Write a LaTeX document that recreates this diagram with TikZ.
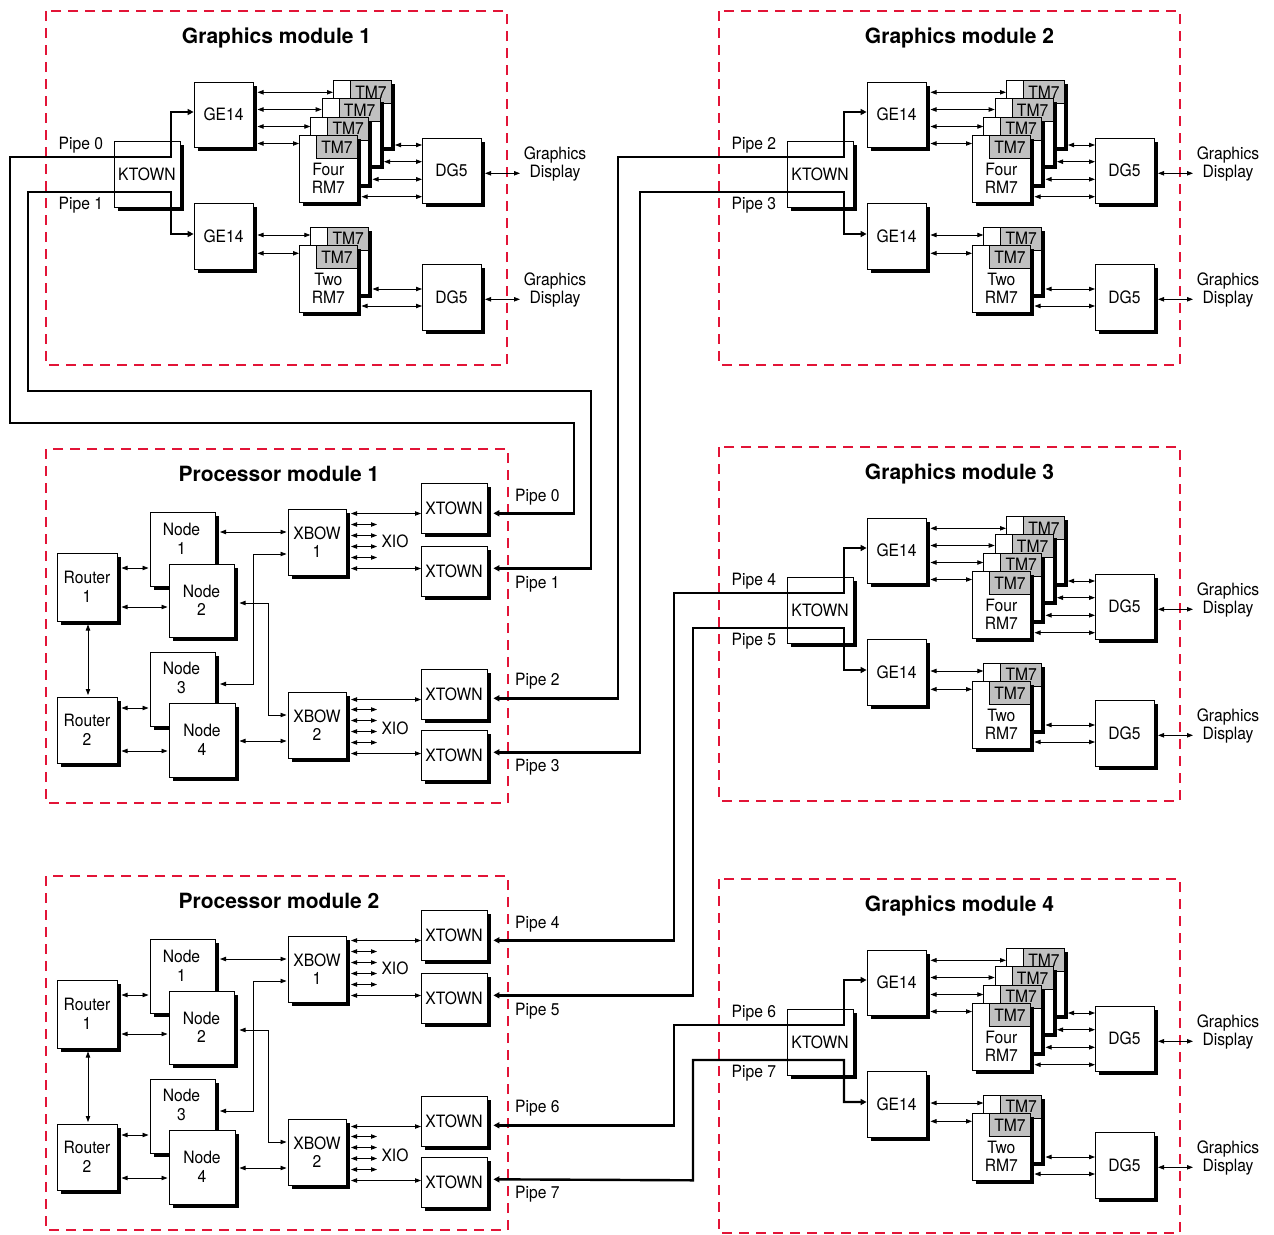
\documentclass[tikz,border=0pt]{standalone}
\usepackage{fontspec}
\setmainfont{TeX Gyre Heros}[FakeStretch=0.92]
\newfontfamily\titlefont{TeX Gyre Heros}
\usetikzlibrary{arrows.meta,shadows,calc}
\definecolor{dashred}{RGB}{226,20,55}
\definecolor{tmgray}{RGB}{192,192,192}
\tikzset{
 box/.style={draw, line width=0.8pt, fill=white, general shadow={fill=black, shadow xshift=3.5pt, shadow yshift=-3.5pt}},
 tm/.style={draw, line width=0.8pt, fill=tmgray, minimum width=41, minimum height=23},
 modbox/.style={draw=dashred, line width=2.6pt, dash pattern=on 10pt off 7pt},
 ttl/.style={font=\titlefont\bfseries\fontsize{21}{24}\selectfont},
 arr/.style={line width=0.8pt, {Triangle[length=6pt,width=4.4pt]}-{Triangle[length=6pt,width=4.4pt]}},
 pipe/.style={line width=2.4pt, line join=miter, {Triangle[length=6pt,width=6pt]}-{Triangle[length=6pt,width=6pt]}},
}
\newcommand\card[4]{%
 \node[box, minimum width=58, minimum height=67, anchor=north west] (#1) at (#2,#3) {};
 \node[tm, anchor=north east] at (#1.north east) {TM7};
 \node at ([yshift=-9.5pt]#1.center) {#4};}
% #1 prefix, #2 dx, #3 dy, #4 number, #5 #6 pipes, #7 title x
\newcommand\gmodule[7]{%
\begin{scope}[shift={(#2,#3)}, name prefix=#1-]
 \draw[modbox] (46,11) rectangle (507,365);
 \node[ttl] (title) at (#7,38) {Graphics module #4};
 \node[box, minimum width=66, minimum height=66] (kt) at (147,174) {KTOWN};
 \node[box, minimum width=59, minimum height=65] (gea) at (223.5,114.5) {GE14};
 \node[box, minimum width=59, minimum height=66] (geb) at (223.5,236) {GE14};
 \card{ca4}{333}{80.1}{}
 \card{ca3}{321.7}{98.4}{}
 \card{ca2}{310.3}{116.7}{}
 \card{ca1}{299}{135}{Four\\RM7}
 \card{cb2}{310.3}{226.7}{}
 \card{cb1}{299}{245}{Two\\RM7}
 \node[box, minimum width=59, minimum height=65] (dga) at (451.5,170.5) {DG5};
 \node[box, minimum width=59, minimum height=66] (dgb) at (451.5,297) {DG5};
 \node (gda) at (555,164) {Graphics\\Display};
 \node (gdb) at (555,290) {Graphics\\Display};
 \draw[arr] (257.5,92.3) -- (333,92.3);
 \draw[arr] (257.5,109.5) -- (321.7,109.5);
 \draw[arr] (257.5,126.5) -- (310.3,126.5);
 \draw[arr] (257.5,143.5) -- (299,143.5);
 \draw[arr] (395,145) -- (422,145);
 \draw[arr] (384,161.7) -- (422,161.7);
 \draw[arr] (372.5,179.3) -- (422,179.3);
 \draw[arr] (361.5,196.7) -- (422,196.7);
 \draw[arr] (485,173.3) -- (520,173.3);
 \draw[arr] (257.5,235) -- (310.3,235);
 \draw[arr] (257.5,253.3) -- (299,253.3);
 \draw[arr] (372.5,289) -- (422,289);
 \draw[arr] (361.5,306) -- (422,306);
 \draw[arr] (485,299.3) -- (520,299.3);
 \node[anchor=west] (pa) at (58.5,145) {Pipe #5};
 \node[anchor=west] (pb) at (58.5,205) {Pipe #6};
\end{scope}}
% #1 prefix, #2 dy, #3 number, #4-#7 pipes
\newcommand\pmodule[7]{%
\begin{scope}[shift={(0,#2)}, name prefix=#1-]
 \draw[modbox] (46,449) rectangle (508,803);
 \node[ttl] (title) at (279,474) {Processor module #3};
 \node[box, minimum width=60, minimum height=68] (r1) at (87,587) {Router\\1};
 \node[box, minimum width=60, minimum height=66] (r2) at (87,730) {Router\\2};
 \node[box, minimum width=65, minimum height=74] (n1) at (182.5,549) {};
 \node (n1t) at (181.5,539) {Node\\1};
 \node[box, minimum width=65, minimum height=73] (n2) at (201.5,600.5) {Node\\2};
 \node[box, minimum width=65, minimum height=74] (n3) at (182.5,689) {};
 \node (n3t) at (181.5,678) {Node\\3};
 \node[box, minimum width=66, minimum height=74] (n4) at (202,740) {Node\\4};
 \node[box, minimum width=58, minimum height=66] (xb1) at (317,542) {XBOW\\1};
 \node[box, minimum width=58, minimum height=66] (xb2) at (317,725) {XBOW\\2};
 \node[box, minimum width=66, minimum height=50] (xta) at (454,508) {XTOWN};
 \node[box, minimum width=66, minimum height=50] (xtb) at (454,571) {XTOWN};
 \node[box, minimum width=66, minimum height=50] (xtc) at (454,694) {XTOWN};
 \node[box, minimum width=66, minimum height=50] (xtd) at (454,755) {XTOWN};
 \draw[arr] (121.5,568) -- (148.5,568);
 \draw[arr] (121.5,607) -- (167.5,607);
 \draw[arr] (88,624.5) -- (88,695);
 \draw[arr] (121.5,708) -- (148.5,708);
 \draw[arr] (121.5,751) -- (167.5,751);
 \draw[arr] (220,532) -- (286.5,532);
 \draw[arr] (239.5,741) -- (286.5,741);
 \draw[arr] (220,684) -- (253,684) -- (253,554) -- (286.5,554);
 \draw[arr] (239.5,603) -- (268,603) -- (268,715) -- (286.5,715);
 \draw[arr] (351,513.5) -- (421,513.5);
 \draw[arr] (351,568.5) -- (421,568.5);
 \foreach \yy in {524.5,535.5,546.5,557.5} {\draw[arr] (351,\yy) -- (377,\yy);}
 \node (xioa) at (395,541) {XIO};
 \draw[arr] (351,699.5) -- (421,699.5);
 \draw[arr] (351,753.5) -- (421,753.5);
 \foreach \yy in {709.5,720.5,731.5,742.5} {\draw[arr] (351,\yy) -- (377,\yy);}
 \node (xiob) at (395,728) {XIO};
 \node[anchor=west] (pla) at (515,497) {Pipe #4};
 \node[anchor=west] (plb) at (515,584) {Pipe #5};
 \node[anchor=west] (plc) at (515,681) {Pipe #6};
 \node[anchor=west] (pld) at (515,767) {Pipe #7};
\end{scope}}
\begin{document}
\begin{tikzpicture}[x=1pt, y=-1pt, every node/.style={font=\fontsize{17}{18.5}\selectfont, inner sep=0pt, align=center}]
\useasboundingbox (0,0) rectangle (1274,1234);
\fill[white] (0,0) rectangle (1274,1234);
\gmodule{gm1}{0}{0}{1}{0}{1}{276.5}
\gmodule{gm2}{673}{0}{2}{2}{3}{286.5}
\gmodule{gm3}{673}{436}{3}{4}{5}{286.5}
\gmodule{gm4}{673}{868}{4}{6}{7}{286.5}
\pmodule{pm1}{0}{1}{0}{1}{2}{3}
\pmodule{pm2}{427}{2}{4}{5}{6}{7}
% pipes
\draw[pipe] ($(pm1-xta.east)+(6,5.3)$) -- (574,513.3) -- (574,423) -- (10,423) -- (10,157) -- (171,157) -- (171,112) -- (gm1-gea.west |- 171,112);
\draw[pipe] ($(pm1-xtb.east)+(6,-2.7)$) -- (591,568.3) -- (591,391) -- (28,391) -- (28,192) -- (171,192) -- (171,234) -- (gm1-geb.west |- 171,234);
\draw[pipe] ($(pm1-xtc.east)+(6,4.3)$) -- (618,698.3) -- (618,157) -- (844,157) -- (844,112) -- (gm2-gea.west |- 844,112);
\draw[pipe] ($(pm1-xtd.east)+(6,-2.7)$) -- (640,752.3) -- (640,192) -- (844,192) -- (844,234) -- (gm2-geb.west |- 844,234);
\draw[pipe] ($(pm2-xta.east)+(6,5.3)$) -- (674,940.3) -- (674,593) -- (844,593) -- (844,548) -- (gm3-gea.west |- 844,548);
\draw[pipe] ($(pm2-xtb.east)+(6,-2.7)$) -- (693,995.3) -- (693,628) -- (844,628) -- (844,670) -- (gm3-geb.west |- 844,670);
\draw[pipe] ($(pm2-xtc.east)+(6,4.3)$) -- (674,1125.3) -- (674,1025) -- (844,1025) -- (844,980) -- (gm4-gea.west |- 844,980);
\draw[pipe] ($(pm2-xtd.east)+(6,-2.7)$) -- (693,1180.3) -- (693,1060) -- (844,1060) -- (844,1102) -- (gm4-geb.west |- 844,1102);
\end{tikzpicture}
\end{document}
